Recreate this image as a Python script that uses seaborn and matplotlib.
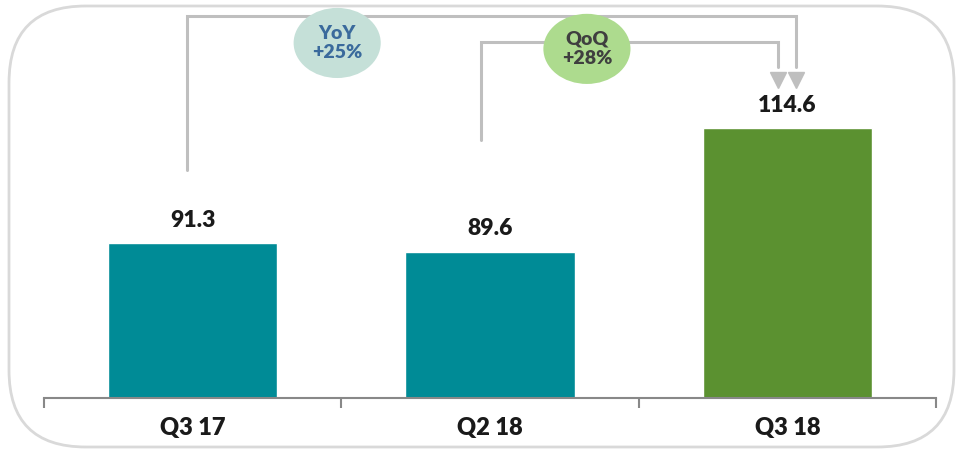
import matplotlib
matplotlib.use("Agg")
import matplotlib.pyplot as plt
import seaborn as sns
from matplotlib.patches import Ellipse, FancyBboxPatch

categories = ["Q3 17", "Q2 18", "Q3 18"]
values = [91.3, 89.6, 114.6]
bar_colors = ["#008b96", "#008b96", "#5b9130"]
yoy_label = "YoY\n+25%"
qoq_label = "QoQ\n+28%"

sns.set_theme(style="white")
plt.rcParams['font.family'] = ['Lato', 'DejaVu Sans']

fig = plt.figure(figsize=(9.59, 4.53), dpi=100)
W, H = 959, 453
# rounded frame
frame = FancyBboxPatch((9 / W, 6 / H), 945 / W, 441 / H,
                       boxstyle="round,pad=0,rounding_size=0.08",
                       transform=fig.transFigure, facecolor="none",
                       edgecolor="#d9d9d9", linewidth=2, mutation_aspect=W / H,
                       zorder=-1)
fig.patches.append(frame)

ax = fig.add_axes([44 / W, (H - 398) / H, 892 / W, 398 / H])
ax.patch.set_alpha(0)
sns.barplot(x=categories, y=values, hue=categories, palette=bar_colors,
            width=0.57, legend=False, ax=ax, saturation=1)
ax.set_xlim(-0.5, 2.5)
ax.set_ylim(60, 140.6)

for i, v in enumerate(values):
    ax.annotate(f"{v:.1f}", (i, v), xytext=(0, 9), textcoords="offset points",
                ha="center", va="bottom", fontsize=16.5, fontweight="heavy",
                color="#1a1a1a")

for s in ["top", "right", "left"]:
    ax.spines[s].set_visible(False)
ax.spines["bottom"].set_color("#888888")
ax.spines["bottom"].set_linewidth(1.5)
ax.set_yticks([])
ax.set_xticks([0, 1, 2])
ax.set_xticklabels(categories, fontsize=17, fontweight="heavy", color="#1a1a1a")
ax.set_xticks([-0.5, 0.5, 1.5, 2.5], minor=True)
ax.tick_params(axis="x", which="major", length=0, pad=14)
ax.tick_params(axis="x", which="minor", length=7, width=1.5, color="#888888",
               direction="out", bottom=True)

lc = "#bfbfbf"
# YoY bracket
ax.plot([-0.02, -0.02, 2.03, 2.03], [106.2, 137.3, 137.3, 127.0],
        color=lc, lw=2.2, solid_joinstyle="miter", clip_on=False)
ax.plot([2.03], [124.3], marker="v", markersize=12, color=lc, clip_on=False)
# QoQ bracket
ax.plot([0.97, 0.97, 1.97, 1.97], [112.2, 132.1, 132.1, 127.0],
        color=lc, lw=2.2, solid_joinstyle="miter", clip_on=False)
ax.plot([1.97], [124.3], marker="v", markersize=12, color=lc, clip_on=False)

e1 = Ellipse((0.486, 131.9), 0.293, 14.2, facecolor="#c5e0d8", edgecolor="none", zorder=5)
e2 = Ellipse((1.326, 130.7), 0.293, 14.2, facecolor="#addb8e", edgecolor="none", zorder=5)
ax.add_patch(e1)
ax.add_patch(e2)
ax.text(0.486, 131.9, yoy_label, ha="center", va="center", fontsize=14,
        fontweight="heavy", color="#3a6a9c", zorder=6, linespacing=1.2)
ax.text(1.326, 130.7, qoq_label, ha="center", va="center", fontsize=14,
        fontweight="heavy", color="#3f3f3f", zorder=6, linespacing=1.2)

fig.savefig("out.png", dpi=100)
